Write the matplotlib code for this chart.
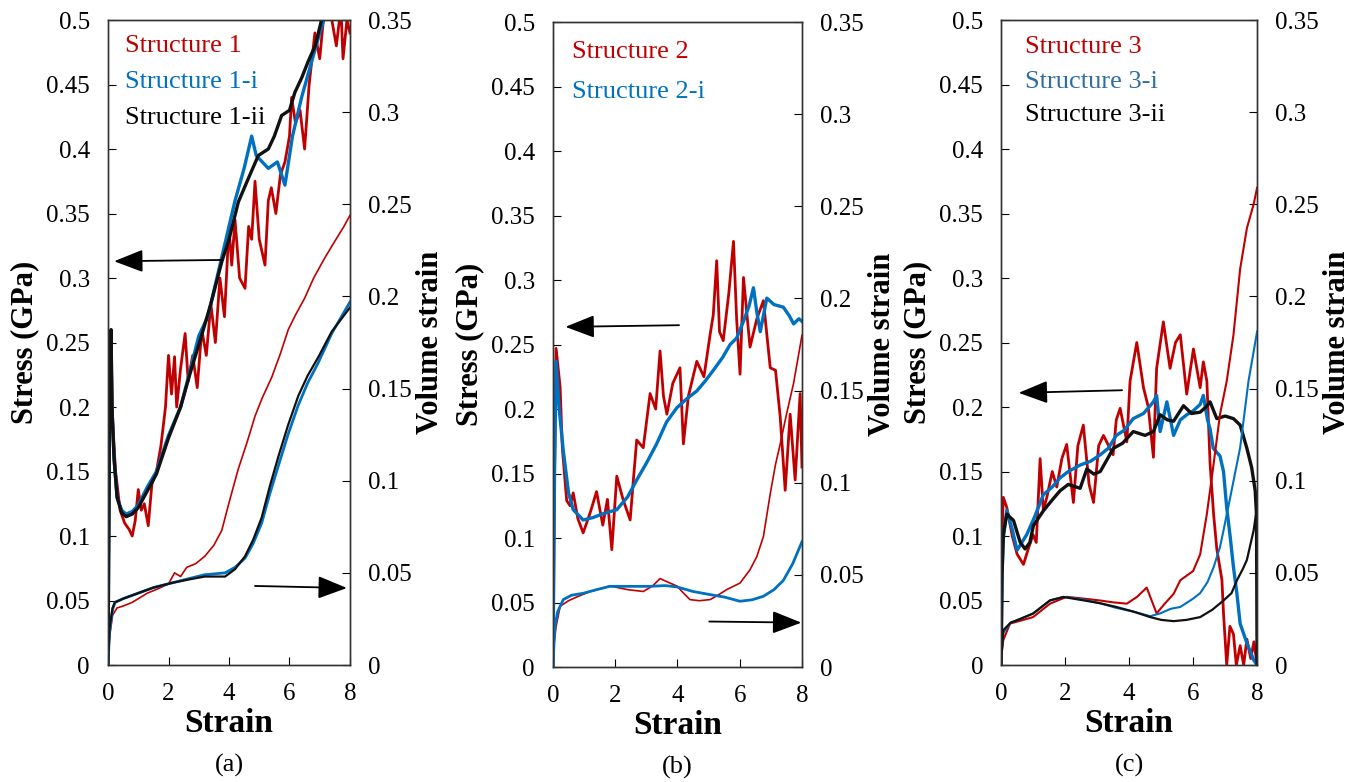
import numpy as np
import matplotlib
matplotlib.use('Agg')
import matplotlib.pyplot as plt
from matplotlib.ticker import FuncFormatter, MultipleLocator

plt.rcParams['font.family'] = ['Liberation Serif', 'DejaVu Serif']

RED = '#C00000'
BLUE = '#0070C0'
BLACK = '#111111'

# ---------------- panel (a) ----------------
a_s1_x = [0, 0.05, 0.1, 0.15, 0.25, 0.4, 0.55, 0.7, 0.8, 0.9, 1.0, 1.1, 1.2, 1.33, 1.45, 1.6, 1.75, 1.9, 2.0,
          2.1, 2.2, 2.27, 2.4, 2.55, 2.65, 2.8, 2.95, 3.1, 3.25, 3.4, 3.55, 3.7, 3.85, 4.0, 4.09, 4.2, 4.35,
          4.53, 4.65, 4.75, 4.86, 5.0, 5.19, 5.3, 5.4, 5.55, 5.7, 5.85, 6.0, 6.07, 6.2, 6.35, 6.5, 6.65, 6.84,
          7.0, 7.2, 7.4, 7.55, 7.7, 7.77, 7.9, 8.0]
a_s1_y = [0, 0.2, 0.25, 0.19, 0.15, 0.12, 0.11, 0.105, 0.1, 0.112, 0.136, 0.12, 0.125, 0.108, 0.14, 0.15, 0.17,
          0.2, 0.24, 0.21, 0.239, 0.2, 0.23, 0.257, 0.22, 0.24, 0.215, 0.26, 0.24, 0.28, 0.25, 0.3, 0.27, 0.34,
          0.31, 0.345, 0.3, 0.292, 0.34, 0.33, 0.375, 0.33, 0.31, 0.36, 0.37, 0.35, 0.38, 0.39, 0.41, 0.44, 0.42,
          0.43, 0.40, 0.45, 0.49, 0.47, 0.52, 0.5, 0.48, 0.51, 0.47, 0.5, 0.49]
a_s1i_x = [0, 0.05, 0.1, 0.13, 0.2, 0.3, 0.45, 0.6, 0.8, 1.0, 1.3, 1.6, 2.0, 2.4, 2.7, 3.0, 3.3, 3.6, 3.9, 4.2,
           4.5, 4.75, 4.9, 5.1, 5.3, 5.6, 5.85, 6.1, 6.4, 6.7, 7.0, 7.2]
a_s1i_y = [0, 0.2, 0.255, 0.2, 0.16, 0.13, 0.12, 0.117, 0.119, 0.124, 0.138, 0.15, 0.178, 0.2, 0.227, 0.255,
           0.27, 0.3, 0.33, 0.36, 0.385, 0.41, 0.395, 0.39, 0.385, 0.39, 0.372, 0.41, 0.44, 0.465, 0.49, 0.505]
a_s1ii_x = [0, 0.05, 0.1, 0.13, 0.2, 0.3, 0.45, 0.6, 0.8, 1.0, 1.3, 1.6, 2.0, 2.4, 2.7, 3.1, 3.4, 3.76, 4.0,
            4.31, 4.6, 4.97, 5.3, 5.5, 5.74, 6.0, 6.18, 6.4, 6.62, 6.85, 7.06]
a_s1ii_y = [0, 0.2, 0.26, 0.2, 0.16, 0.13, 0.118, 0.115, 0.117, 0.122, 0.135, 0.148, 0.176, 0.2, 0.225, 0.256,
            0.28, 0.3125, 0.33, 0.359, 0.375, 0.395, 0.40, 0.41, 0.426, 0.43, 0.444, 0.455, 0.468, 0.48, 0.5]

a_v1_x = [0, 0.05, 0.15, 0.3, 0.5, 0.8, 1.0, 1.3, 1.6, 2.0, 2.2, 2.4, 2.6, 2.9, 3.2, 3.5, 3.76, 4.0, 4.3, 4.6,
          4.86, 5.1, 5.41, 5.7, 5.96, 6.2, 6.5, 6.8, 7.17, 7.5, 7.8, 8.0]
a_v1_y = [0, 0.015, 0.027, 0.031, 0.032, 0.034, 0.036, 0.039, 0.041, 0.044, 0.05, 0.048, 0.053, 0.055, 0.059,
          0.065, 0.073, 0.088, 0.106, 0.121, 0.135, 0.145, 0.156, 0.169, 0.182, 0.19, 0.199, 0.21, 0.221, 0.23,
          0.238, 0.244]
a_v1i_x = [0, 0.05, 0.15, 0.23, 0.5, 1.0, 1.5, 2.1, 2.7, 3.2, 3.87, 4.2, 4.53, 4.8, 5.08, 5.35, 5.63, 5.95,
           6.29, 6.6, 6.95, 7.4, 8.0]
a_v1i_y = [0, 0.018, 0.03, 0.034, 0.036, 0.039, 0.042, 0.0445, 0.047, 0.049, 0.05, 0.053, 0.058, 0.066, 0.077,
           0.093, 0.108, 0.125, 0.141, 0.153, 0.164, 0.18, 0.197]
a_v1ii_x = [0, 0.05, 0.15, 0.23, 0.5, 1.0, 1.5, 2.1, 2.7, 3.2, 3.87, 4.2, 4.53, 4.8, 5.08, 5.35, 5.63, 5.95,
            6.29, 6.6, 6.95, 7.4, 8.0]
a_v1ii_y = [0, 0.02, 0.031, 0.034, 0.036, 0.039, 0.042, 0.0445, 0.0465, 0.048, 0.048, 0.052, 0.059, 0.068, 0.080,
            0.097, 0.113, 0.13, 0.146, 0.157, 0.167, 0.181, 0.194]

# ---------------- panel (b) ----------------
b_s2_x = [0, 0.05, 0.1, 0.23, 0.3, 0.44, 0.55, 0.65, 0.8, 0.97, 1.2, 1.4, 1.6, 1.75, 1.89, 2.05, 2.25, 2.48,
          2.6, 2.69, 2.9, 3.12, 3.3, 3.44, 3.55, 3.66, 3.85, 4.08, 4.19, 4.35, 4.62, 4.85, 5.05, 5.15, 5.26,
          5.35, 5.47, 5.65, 5.8, 5.9, 6.01, 6.12, 6.33, 6.55, 6.76, 6.98, 7.15, 7.3, 7.46, 7.62, 7.78, 7.94, 8.0]
b_s2_y = [0, 0.15, 0.247, 0.217, 0.17, 0.129, 0.125, 0.135, 0.115, 0.104, 0.12, 0.136, 0.11, 0.13, 0.091, 0.148,
          0.13, 0.114, 0.15, 0.176, 0.17, 0.212, 0.2, 0.245, 0.21, 0.196, 0.22, 0.232, 0.173, 0.21, 0.237, 0.225,
          0.258, 0.273, 0.315, 0.26, 0.253, 0.29, 0.33, 0.27, 0.227, 0.302, 0.248, 0.27, 0.284, 0.232, 0.23,
          0.194, 0.137, 0.196, 0.145, 0.212, 0.155]
b_s2i_x = [0, 0.05, 0.1, 0.2, 0.33, 0.5, 0.65, 0.97, 1.3, 1.62, 2.05, 2.4, 2.69, 3.0, 3.33, 3.65, 3.98, 4.3,
           4.62, 4.9, 5.15, 5.45, 5.69, 5.9, 6.12, 6.3, 6.44, 6.55, 6.66, 6.87, 7.1, 7.4, 7.6, 7.73, 7.9, 8.0]
b_s2i_y = [0, 0.15, 0.237, 0.2, 0.168, 0.135, 0.122, 0.114, 0.116, 0.119, 0.122, 0.132, 0.145, 0.158, 0.173,
           0.19, 0.201, 0.208, 0.214, 0.222, 0.23, 0.24, 0.25, 0.255, 0.268, 0.28, 0.294, 0.275, 0.26, 0.286,
           0.281, 0.279, 0.272, 0.266, 0.27, 0.268]
b_v2_x = [0, 0.03, 0.1, 0.23, 0.5, 0.76, 1.2, 1.83, 2.4, 2.9, 3.2, 3.44, 3.7, 3.98, 4.2, 4.4, 4.7, 5.05, 5.3,
          5.58, 6.01, 6.33, 6.55, 6.76, 6.98, 7.15, 7.3, 7.5, 7.73, 8.0]
b_v2_y = [0, 0.012, 0.022, 0.033, 0.036, 0.038, 0.041, 0.044, 0.042, 0.041, 0.044, 0.048, 0.046, 0.044, 0.04,
          0.0366, 0.036, 0.0366, 0.039, 0.042, 0.0456, 0.0528, 0.06, 0.0708, 0.094, 0.11, 0.121, 0.137, 0.154,
          0.18]
b_v2i_x = [0, 0.03, 0.06, 0.15, 0.33, 0.6, 0.97, 1.4, 1.83, 2.5, 3.12, 3.6, 3.98, 4.5, 5.05, 5.5, 6.01, 6.4,
           6.76, 7.1, 7.4, 7.7, 8.0]
b_v2i_y = [0, 0.012, 0.022, 0.03, 0.0366, 0.039, 0.040, 0.042, 0.0438, 0.0438, 0.0438, 0.0442, 0.0435, 0.041,
           0.0393, 0.038, 0.0357, 0.0365, 0.0384, 0.042, 0.047, 0.056, 0.068]

# ---------------- panel (c) ----------------
c_s3_x = [0, 0.03, 0.07, 0.18, 0.35, 0.5, 0.7, 0.85, 1.0, 1.1, 1.22, 1.32, 1.43, 1.6, 1.74, 1.9, 2.05, 2.26,
          2.4, 2.57, 2.75, 2.89, 3.05, 3.2, 3.5, 3.6, 3.72, 3.93, 4.03, 4.24, 4.45, 4.6, 4.76, 4.86, 5.07, 5.28,
          5.45, 5.6, 5.8, 6.01, 6.22, 6.32, 6.43, 6.53, 6.64, 6.74, 6.9, 6.95, 7.05, 7.15, 7.26, 7.35, 7.47,
          7.58, 7.68, 7.8, 7.9, 8.0]
c_s3_y = [0, 0.1, 0.13, 0.122, 0.1, 0.086, 0.078, 0.09, 0.101, 0.095, 0.16, 0.12, 0.13, 0.15, 0.138, 0.16, 0.171,
          0.126, 0.17, 0.186, 0.14, 0.126, 0.17, 0.178, 0.163, 0.19, 0.199, 0.173, 0.22, 0.25, 0.215, 0.2, 0.161,
          0.23, 0.266, 0.23, 0.25, 0.256, 0.21, 0.245, 0.215, 0.235, 0.22, 0.156, 0.117, 0.09, 0.066, 0.04, 0.0,
          0.03, 0.024, 0.0, 0.015, 0.0, 0.02, 0.005, 0.018, 0.0]
c_s3i_x = [0, 0.03, 0.07, 0.18, 0.35, 0.5, 0.8, 1.05, 1.32, 1.6, 1.84, 2.1, 2.47, 2.8, 3.1, 3.35, 3.6, 3.85,
           4.13, 4.45, 4.76, 4.86, 4.97, 5.18, 5.39, 5.6, 5.8, 6.0, 6.22, 6.32, 6.45, 6.53, 6.63, 6.84, 6.95,
           7.05, 7.16, 7.26, 7.37, 7.47, 7.68, 7.89, 8.0]
c_s3i_y = [0, 0.07, 0.098, 0.12, 0.105, 0.089, 0.101, 0.115, 0.132, 0.138, 0.145, 0.15, 0.155, 0.158, 0.163,
           0.168, 0.178, 0.182, 0.191, 0.195, 0.204, 0.209, 0.181, 0.204, 0.178, 0.19, 0.194, 0.197, 0.202, 0.209,
           0.19, 0.183, 0.168, 0.162, 0.150, 0.122, 0.099, 0.076, 0.055, 0.032, 0.017, 0.004, 0.0]
c_s3ii_x = [0, 0.03, 0.07, 0.18, 0.39, 0.5, 0.6, 0.75, 0.9, 1.01, 1.32, 1.6, 1.84, 2.1, 2.47, 2.68, 2.9, 3.1,
            3.51, 3.8, 4.13, 4.5, 4.76, 4.97, 5.2, 5.39, 5.7, 5.95, 6.22, 6.4, 6.53, 6.74, 7.0, 7.26, 7.47,
            7.68, 7.83, 7.94, 7.98, 8.0]
c_s3ii_y = [0, 0.07, 0.1015, 0.117, 0.112, 0.103, 0.095, 0.09, 0.095, 0.108, 0.1195, 0.128, 0.135, 0.14, 0.137,
            0.152, 0.148, 0.15, 0.168, 0.172, 0.181, 0.178, 0.181, 0.194, 0.19, 0.189, 0.201, 0.195, 0.196, 0.2,
            0.204, 0.191, 0.193, 0.191, 0.186, 0.168, 0.153, 0.135, 0.117, 0.0]
c_v3_x = [0, 0.03, 0.07, 0.28, 0.6, 1.0, 1.53, 2.05, 2.6, 3.1, 3.5, 3.93, 4.25, 4.55, 4.86, 5.1, 5.39, 5.6,
          6.0, 6.22, 6.43, 6.64, 6.84, 7.05, 7.26, 7.47, 7.68, 7.89, 8.0]
c_v3_y = [0, 0.008, 0.0135, 0.0225, 0.024, 0.026, 0.0333, 0.037, 0.036, 0.035, 0.034, 0.0333, 0.037, 0.042,
          0.028, 0.033, 0.0386, 0.046, 0.051, 0.06, 0.082, 0.109, 0.136, 0.154, 0.179, 0.215, 0.237, 0.25, 0.259]
c_v3i_x = [0, 0.03, 0.07, 0.3, 0.6, 1.0, 1.53, 1.95, 2.57, 3.1, 3.6, 4.13, 4.66, 4.97, 5.3, 5.6, 6.0, 6.22,
           6.45, 6.64, 6.84, 6.95, 7.16, 7.47, 7.73, 8.0]
c_v3i_y = [0, 0.009, 0.0175, 0.023, 0.025, 0.028, 0.035, 0.037, 0.0355, 0.0335, 0.031, 0.029, 0.0265, 0.028,
           0.0305, 0.0315, 0.036, 0.039, 0.045, 0.053, 0.064, 0.073, 0.091, 0.118, 0.154, 0.181]
c_v3ii_x = [0, 0.03, 0.07, 0.3, 0.5, 1.0, 1.53, 1.95, 2.57, 3.1, 3.6, 4.13, 4.66, 5.0, 5.39, 5.8, 6.22, 6.6,
            6.95, 7.2, 7.37, 7.55, 7.68, 7.89, 8.0]
c_v3ii_y = [0, 0.009, 0.0189, 0.023, 0.0243, 0.0279, 0.0351, 0.0369, 0.0351, 0.0335, 0.0315, 0.029, 0.026,
            0.0245, 0.0238, 0.0245, 0.026, 0.03, 0.035, 0.039, 0.046, 0.052, 0.057, 0.073, 0.086]

fig = plt.figure(figsize=(13.57, 7.82), dpi=100)

fmt = FuncFormatter(lambda v, _: '%g' % round(v, 4))


def setup(rect, tag):
    ax = fig.add_axes(rect)
    ax2 = ax.twinx()
    ax.set_xlim(0, 8)
    ax.set_ylim(0, 0.5)
    ax2.set_ylim(0, 0.35)
    ax.xaxis.set_major_locator(MultipleLocator(2))
    ax.yaxis.set_major_locator(MultipleLocator(0.05))
    ax2.yaxis.set_major_locator(MultipleLocator(0.05))
    ax.yaxis.set_major_formatter(fmt)
    ax2.yaxis.set_major_formatter(fmt)
    for a in (ax, ax2):
        a.tick_params(direction='in', labelsize=18, length=6, width=0.8, pad=13)
        for sp in a.spines.values():
            sp.set_linewidth(1.0)
            sp.set_color('#333333')
    ax.set_xlabel('Strain', fontsize=24, fontweight='bold', labelpad=2)
    ax.set_ylabel('Stress (GPa)', fontsize=22, fontweight='bold', labelpad=5)
    ax2.set_ylabel('Volume strain', fontsize=22, fontweight='bold', labelpad=3)
    ax.text(0.5, -0.155, tag, transform=ax.transAxes, ha='center', va='center', fontsize=19)
    return ax, ax2


def arrows(ax, ax2, left, right):
    ax.annotate('', xy=left[1], xytext=left[0],
                arrowprops=dict(arrowstyle='-|>,head_length=0.9,head_width=0.35', color='black',
                                lw=1.3, mutation_scale=20, shrinkA=0, shrinkB=0))
    ax2.annotate('', xy=right[1], xytext=right[0],
                 arrowprops=dict(arrowstyle='-|>,head_length=0.9,head_width=0.35', color='black',
                                 lw=1.3, mutation_scale=20, shrinkA=0, shrinkB=0))


def legend(ax, entries, x0, ys):
    for (txt, col), y in zip(entries, ys):
        ax.text(x0, y, txt, color=col, fontsize=19, transform=ax.transAxes, va='center', ha='left')


# panel a
ax, ax2 = setup([0.0796, 0.1496, 0.1783, 0.8248], '(a)')
ax2.plot(a_v1_x, a_v1_y, color=RED, lw=1.2)
ax2.plot(a_v1i_x, a_v1i_y, color=BLUE, lw=2.0)
ax2.plot(a_v1ii_x, a_v1ii_y, color=BLACK, lw=1.6)
ax.plot(a_s1_x, a_s1_y, color=RED, lw=2.0)
ax.plot(a_s1i_x, a_s1i_y, color=BLUE, lw=2.4)
ax.plot(a_s1ii_x, a_s1ii_y, color=BLACK, lw=2.4)
arrows(ax, ax2, [(3.76, 0.314), (0.2, 0.313)], [(4.86, 0.0429), (7.9, 0.0418)])
legend(ax, [('Structure 1', RED), ('Structure 1-i', BLUE), ('Structure 1-ii', 'black')],
       0.07, [0.96, 0.904, 0.848])

# panel b
ax, ax2 = setup([0.4075, 0.147, 0.1835, 0.8248], '(b)')
ax2.plot(b_v2_x, b_v2_y, color=RED, lw=1.2)
ax2.plot(b_v2i_x, b_v2i_y, color=BLUE, lw=2.0)
ax.plot(b_s2_x, b_s2_y, color=RED, lw=2.0)
ax.plot(b_s2i_x, b_s2i_y, color=BLUE, lw=2.4)
arrows(ax, ax2, [(4.05, 0.265), (0.4, 0.2637)], [(5.02, 0.0247), (7.98, 0.0241)])
legend(ax, [('Structure 2', RED), ('Structure 2-i', BLUE)], 0.076, [0.953, 0.892])

# panel c
ax, ax2 = setup([0.7377, 0.1496, 0.1887, 0.8248], '(c)')
ax2.plot(c_v3_x, c_v3_y, color=RED, lw=1.5)
ax2.plot(c_v3i_x, c_v3i_y, color=BLUE, lw=1.5)
ax2.plot(c_v3ii_x, c_v3ii_y, color=BLACK, lw=1.6)
ax.plot(c_s3_x, c_s3_y, color=RED, lw=2.0)
ax.plot(c_s3i_x, c_s3i_y, color=BLUE, lw=2.4)
ax.plot(c_s3ii_x, c_s3ii_y, color=BLACK, lw=2.4)
arrows(ax, ax2, [(3.78, 0.213), (0.55, 0.211)], [(4.59, 0.0189), (8.05, 0.02)])
legend(ax, [('Structure 3', RED), ('Structure 3-i', '#2F6EA5'), ('Structure 3-ii', 'black')],
       0.094, [0.958, 0.904, 0.853])

fig.savefig('out.png', dpi=100)
